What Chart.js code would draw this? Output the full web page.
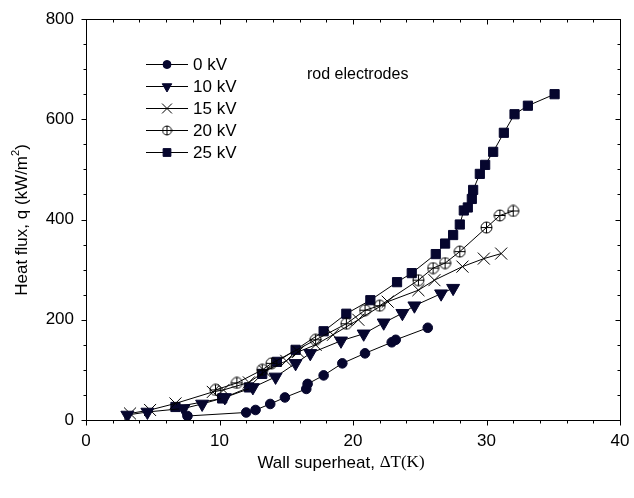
<!DOCTYPE html>
<html>
<head>
<meta charset="utf-8">
<script src="https://cdn.jsdelivr.net/npm/chart.js@4/dist/chart.umd.min.js"></script>
<style>
html,body{margin:0;padding:0;background:#fff;}
#wrap{width:634px;height:498px;position:relative;}
</style>
</head>
<body>
<div id="wrap"><canvas id="c" width="634" height="498"></canvas></div>
<script>
// ---- data ----
const seriesLabels = ['0 kV', '10 kV', '15 kV', '20 kV', '25 kV'];

const dT_0kV = [7.6, 12.0, 12.7, 13.8, 14.9, 16.5, 16.6, 17.8, 19.2, 20.9, 22.9, 23.2, 25.6];
const q_0kV  = [8, 15, 20, 32, 45, 62, 72, 89, 113, 133, 155, 160, 184];

const dT_10kV = [3.1, 4.6, 7.3, 8.7, 10.4, 12.5, 14.2, 15.7, 16.8, 19.1, 20.8, 22.3, 23.7, 24.6, 26.6, 27.5];
const q_10kV  = [10, 16, 23, 32, 45, 65, 86, 113, 133, 158, 172, 194, 213, 228, 252, 263];

const dT_15kV = [3.3, 4.8, 6.7, 9.5, 10.3, 12.2, 13.4, 15.0, 15.9, 17.2, 18.5, 20.4, 22.6, 24.9, 26.1, 28.2, 29.8, 31.1];
const q_15kV  = [13, 20, 33, 56, 60, 75, 97, 118, 136, 150, 170, 200, 236, 259, 279, 306, 322, 332];

const dT_20kV = [9.7, 11.3, 13.2, 13.9, 17.2, 19.5, 20.9, 22.0, 24.9, 26.0, 26.9, 28.0, 30.0, 31.0, 32.0];
const q_20kV  = [60, 74, 100, 113, 160, 192, 219, 228, 279, 303, 313, 336, 384, 408, 417];

const dT_25kV = [6.7, 10.2, 12.2, 13.2, 14.3, 15.7, 17.8, 19.5, 21.3, 23.3, 24.4, 26.2, 26.9, 27.5, 28.0, 28.3, 28.6, 28.9, 29.0, 29.5, 29.9, 30.5, 31.3, 32.1, 33.1, 35.1];
const q_25kV  = [26, 43, 65, 92, 116, 140, 177, 212, 239, 275, 293, 331, 352, 369, 390, 418, 424, 441, 459, 491, 509, 535, 573, 610, 627, 650];

const xTicks = [0, 10, 20, 30, 40];
const yTicks = [0, 200, 400, 600, 800];

// ---- styles ----
const NAVY = '#06062e';
const SANS = "'Liberation Sans', Arial, sans-serif";
const SERIF = "'Liberation Serif', 'Times New Roman', serif";

function makeCirclePlus(size) {
  const cv = document.createElement('canvas');
  cv.width = size; cv.height = size;
  const g = cv.getContext('2d');
  const c = size / 2, r = size / 2 - 1;
  g.strokeStyle = '#000'; g.lineWidth = 1;
  g.beginPath(); g.arc(c, c, r, 0, Math.PI * 2); g.stroke();
  g.beginPath(); g.moveTo(c - r, c); g.lineTo(c + r, c);
  g.moveTo(c, c - r); g.lineTo(c, c + r); g.stroke();
  return cv;
}
const circlePlus = makeCirclePlus(13);
const circlePlusSmall = makeCirclePlus(11);

function pts(xs, ys) { return xs.map((x, i) => ({x: x, y: ys[i]})); }

const seriesX = [dT_0kV, dT_10kV, dT_15kV, dT_20kV, dT_25kV];
const seriesY = [q_0kV, q_10kV, q_15kV, q_20kV, q_25kV];
const styles = [
  {pointStyle: 'circle', rotation: 0, radius: 4.8, fill: NAVY, border: NAVY, bw: 1, lr: 4},
  {pointStyle: 'triangle', rotation: 180, radius: 7.5, fill: NAVY, border: NAVY, bw: 1, lr: 5.5},
  {pointStyle: 'crossRot', rotation: 0, radius: 8.5, fill: '#000', border: '#000', bw: 1, lr: 7},
  {pointStyle: circlePlus, rotation: 0, radius: 6, fill: 'rgba(0,0,0,0)', border: '#000', bw: 1, lr: 5},
  {pointStyle: 'rect', rotation: 0, radius: 6.5, fill: NAVY, border: NAVY, bw: 1, lr: 5.5}
];

const datasets = seriesLabels.map((lab, i) => ({
  label: lab,
  data: pts(seriesX[i], seriesY[i]),
  showLine: true,
  borderColor: '#000',
  borderWidth: 1,
  tension: 0,
  pointStyle: styles[i].pointStyle,
  rotation: styles[i].rotation,
  pointRadius: styles[i].radius,
  pointHoverRadius: styles[i].radius,
  pointBackgroundColor: styles[i].fill,
  pointBorderColor: styles[i].border,
  pointBorderWidth: styles[i].bw
}));

// ---- decoration plugin: frame, ticks, titles, legend, annotation ----
const deco = {
  id: 'deco',
  afterDraw(chart) {
    const ctx = chart.ctx;
    const a = chart.chartArea;
    const xs = chart.scales.x, ys = chart.scales.y;
    ctx.save();
    ctx.strokeStyle = '#000';
    ctx.lineWidth = 1;
    const L0 = Math.round(a.left) + 0.5, R0 = Math.round(a.right) + 0.5;
    const T0 = Math.round(a.top) + 0.5, B0 = Math.round(a.bottom) + 0.5;
    ctx.strokeRect(L0, T0, R0 - L0, B0 - T0);
    ctx.beginPath();
    for (let v = 0; v <= 40; v += 2) {
      const px = Math.round(xs.getPixelForValue(v)) + 0.5;
      const major = v % 10 === 0;
      const L = major ? 5 : 3;
      ctx.moveTo(px, B0); ctx.lineTo(px, B0 + L);
      ctx.moveTo(px, T0); ctx.lineTo(px, T0 + L);
    }
    for (let v = 0; v <= 800; v += 50) {
      const py = Math.round(ys.getPixelForValue(v)) + 0.5;
      const major = v % 200 === 0;
      const L = major ? 5 : 3;
      ctx.moveTo(L0, py); ctx.lineTo(L0 - L, py);
      ctx.moveTo(R0, py); ctx.lineTo(R0 - L, py);
    }
    ctx.stroke();

    // x-axis title (mixed fonts)
    ctx.fillStyle = '#000';
    ctx.textBaseline = 'middle';
    const t1 = 'Wall superheat, ', t2 = 'ΔT(K)';
    ctx.font = '17px ' + SANS;
    const w1 = ctx.measureText(t1).width;
    ctx.font = '17px ' + SERIF;
    const w2 = ctx.measureText(t2).width;
    const x0 = 341 - (w1 + w2) / 2;
    ctx.font = '17px ' + SANS;
    ctx.textAlign = 'left';
    ctx.fillText(t1, x0, 463);
    ctx.font = '17px ' + SERIF;
    ctx.fillText(t2, x0 + w1, 463);

    // y-axis title (with superscript)
    ctx.save();
    ctx.translate(22, 220);
    ctx.rotate(-Math.PI / 2);
    const y1 = 'Heat flux, q (kW/m', y2 = '2', y3 = ')';
    ctx.font = '17px ' + SANS;
    const wy1 = ctx.measureText(y1).width;
    const wy3 = ctx.measureText(y3).width;
    ctx.font = '11px ' + SANS;
    const wy2 = ctx.measureText(y2).width;
    const sx = -(wy1 + wy2 + wy3) / 2;
    ctx.textAlign = 'left';
    ctx.font = '17px ' + SANS;
    ctx.fillText(y1, sx, 0);
    ctx.font = '11px ' + SANS;
    ctx.fillText(y2, sx + wy1, -6);
    ctx.font = '17px ' + SANS;
    ctx.fillText(y3, sx + wy1 + wy2, 0);
    ctx.restore();

    // legend
    const rows = [64, 86, 108, 130, 152];
    chart.data.datasets.forEach((ds, i) => {
      const y = rows[i] + 0.5;
      ctx.beginPath();
      ctx.strokeStyle = '#000';
      ctx.lineWidth = 1;
      ctx.moveTo(146, y); ctx.lineTo(188, y);
      ctx.stroke();
      ctx.fillStyle = styles[i].fill;
      ctx.strokeStyle = styles[i].border;
      ctx.lineWidth = 1;
      const ps = (i === 3) ? circlePlusSmall : styles[i].pointStyle;
      Chart.helpers.drawPoint(ctx, {pointStyle: ps, rotation: styles[i].rotation,
        radius: styles[i].lr, borderWidth: 1}, 167, y);
      ctx.fillStyle = '#000';
      ctx.font = '17px ' + SANS;
      ctx.textAlign = 'left';
      ctx.textBaseline = 'middle';
      ctx.fillText(ds.label, 193, rows[i] + 1);
    });

    // annotation
    ctx.font = '16px ' + SANS;
    ctx.fillStyle = '#000';
    ctx.textAlign = 'left';
    ctx.textBaseline = 'middle';
    ctx.fillText('rod electrodes', 307, 75);
    ctx.restore();
  }
};

new Chart(document.getElementById('c'), {
  type: 'scatter',
  data: {datasets: datasets},
  options: {
    responsive: false,
    animation: false,
    layout: {padding: {top: 19, right: 14, left: 0, bottom: 0}},
    plugins: {legend: {display: false}, tooltip: {enabled: false}},
    scales: {
      x: {
        type: 'linear', min: 0, max: 40,
        afterBuildTicks: s => { s.ticks = xTicks.map(v => ({value: v})); },
        afterFit: s => { s.height = 78; s.paddingLeft = 0; s.paddingRight = 0; },
        grid: {display: false, drawTicks: false},
        border: {display: false},
        ticks: {padding: 11, color: '#000', font: {family: SANS, size: 17}, maxRotation: 0}
      },
      y: {
        type: 'linear', min: 0, max: 800,
        afterBuildTicks: s => { s.ticks = yTicks.map(v => ({value: v})); },
        afterFit: s => { s.width = 86; s.paddingTop = 0; s.paddingBottom = 0; },
        grid: {display: false, drawTicks: false},
        border: {display: false},
        ticks: {padding: 12, color: '#000', font: {family: SANS, size: 17}}
      }
    }
  },
  plugins: [deco]
});
</script>
</body>
</html>
